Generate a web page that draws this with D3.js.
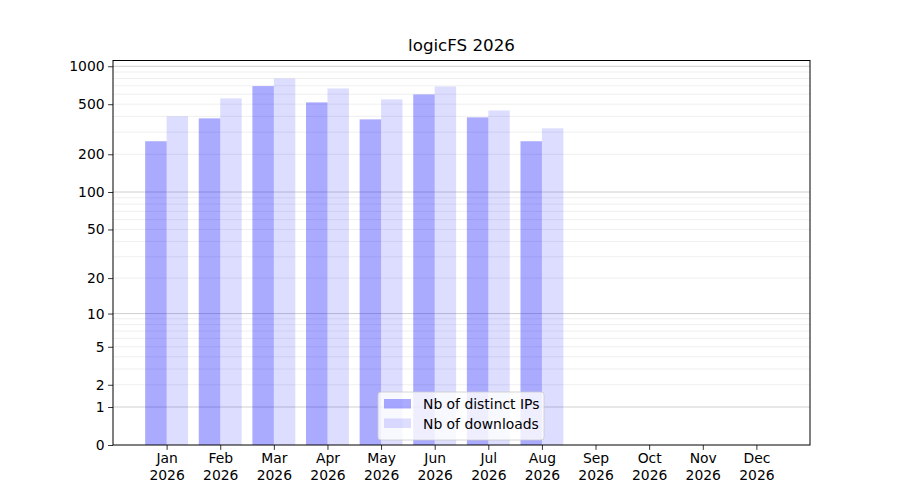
<!doctype html>
<html>
  <head>
    <script src="https://cdnjs.cloudflare.com/ajax/libs/d3/7.8.5/d3.min.js"></script>
    <style>
      body { margin: 0; background: #fff; }
      svg { font-family: "DejaVu Sans", sans-serif; }
      .tick text { fill: #000; }
    </style>
  </head>
  <body>
    <svg id="chart" width="900" height="500"></svg>
    <script>
      // months and values
      var months = ["Jan", "Feb", "Mar", "Apr", "May", "Jun", "Jul", "Aug", "Sep", "Oct", "Nov", "Dec"];
      var year = "2026";
      var distinctIPs = [254, 386, 696, 517, 379, 598, 393, 254];
      var downloads = [401, 556, 800, 667, 546, 691, 446, 322];
      var yTicks = [0, 1, 2, 5, 10, 20, 50, 100, 200, 500, 1000];
      var majorGrid = [1, 10, 100, 1000];
      var minorGrid = [2, 3, 4, 5, 6, 7, 8, 9, 20, 30, 40, 50, 60, 70, 80, 90,
                       200, 300, 400, 500, 600, 700, 800, 900];

      var margin = {top: 60.5, right: 90, bottom: 55, left: 113};
      var W = 900, H = 500;
      var w = W - margin.left - margin.right, h = H - margin.top - margin.bottom;

      var svg = d3.select("#chart");
      var g = svg.append("g").attr("transform", "translate(" + margin.left + "," + margin.top + ")");

      // x: month index, one slot of padding on each side
      var x = d3.scaleLinear().domain([-1, 12]).range([0, w]);
      var step = x(1) - x(0);
      var barW = step * 0.4;

      // y: log10(1 + v)
      var y = d3.scaleLinear().domain([0, Math.log10(1112)]).range([h, 0]);
      var yv = v => y(Math.log10(1 + v));

      // grid
      g.selectAll("line.minor").data(minorGrid).enter().append("line")
        .attr("class", "minor")
        .attr("x1", 0).attr("x2", w)
        .attr("y1", d => yv(d)).attr("y2", d => yv(d))
        .attr("stroke", "#ebebeb").attr("stroke-width", 0.8);
      g.selectAll("line.major").data(majorGrid).enter().append("line")
        .attr("class", "major")
        .attr("x1", 0).attr("x2", w)
        .attr("y1", d => yv(d)).attr("y2", d => yv(d))
        .attr("stroke", "#c4c4c4").attr("stroke-width", 0.8);

      // bars
      g.selectAll("rect.ip").data(distinctIPs).enter().append("rect")
        .attr("class", "ip")
        .attr("x", (d, i) => x(i) - barW)
        .attr("width", barW)
        .attr("y", d => yv(d))
        .attr("height", d => h - yv(d))
        .attr("fill", "rgb(0,0,255)").attr("fill-opacity", 0.333);
      g.selectAll("rect.dl").data(downloads).enter().append("rect")
        .attr("class", "dl")
        .attr("x", (d, i) => x(i))
        .attr("width", barW)
        .attr("y", d => yv(d))
        .attr("height", d => h - yv(d))
        .attr("fill", "rgb(0,0,255)").attr("fill-opacity", 0.133);

      // axes
      var xAxis = d3.axisBottom(x)
        .tickValues(d3.range(12))
        .tickSize(4.9).tickPadding(3.5)
        .tickFormat(i => months[i]);
      var gx = g.append("g").attr("transform", "translate(0," + h + ")").call(xAxis);
      gx.select(".domain").remove();
      gx.selectAll(".tick line").attr("stroke", "#000").attr("stroke-width", 0.8);
      gx.selectAll(".tick text").attr("font-size", "13.9px").attr("font-family", "DejaVu Sans")
        .each(function(i) {
          var t = d3.select(this);
          t.text(null);
          t.append("tspan").attr("x", 0).attr("dy", "0.71em").text(months[i]);
          t.append("tspan").attr("x", 0).attr("dy", "1.17em").text(year);
        });

      var yAxis = d3.axisLeft(y)
        .tickValues(yTicks.map(v => Math.log10(1 + v)))
        .tickSize(4.9).tickPadding(3.5)
        .tickFormat((d, i) => yTicks[i]);
      var gy = g.append("g").call(yAxis);
      gy.select(".domain").remove();
      gy.selectAll(".tick line").attr("stroke", "#000").attr("stroke-width", 0.8);
      gy.selectAll(".tick text").attr("font-size", "13.9px").attr("font-family", "DejaVu Sans");

      // frame
      g.append("rect").attr("x", 0).attr("y", 0).attr("width", w).attr("height", h)
        .attr("fill", "none").attr("stroke", "#000").attr("stroke-width", 1);

      // title
      svg.append("text")
        .attr("x", margin.left + w / 2).attr("y", 51)
        .attr("text-anchor", "middle")
        .attr("font-size", "16.7px")
        .text("logicFS " + year);

      // legend, lower centre
      var legendItems = [
        {label: "Nb of distinct IPs", op: 0.333},
        {label: "Nb of downloads", op: 0.133}
      ];
      var lg = g.append("g").attr("transform", "translate(" + (265) + "," + (h - 53) + ")");
      lg.append("rect")
        .attr("width", 166).attr("height", 48).attr("rx", 3)
        .attr("fill", "#fff").attr("fill-opacity", 0.8)
        .attr("stroke", "#ccc").attr("stroke-width", 0.8);
      var li = lg.selectAll("g.item").data(legendItems).enter().append("g")
        .attr("transform", (d, i) => "translate(6," + (7 + i * 19.5) + ")");
      li.append("rect").attr("width", 27).attr("height", 9.5)
        .attr("fill", "rgb(0,0,255)").attr("fill-opacity", d => d.op);
      li.append("text").attr("x", 39).attr("y", 10)
        .attr("font-size", "13.9px")
        .text(d => d.label);
    </script>
  </body>
</html>
